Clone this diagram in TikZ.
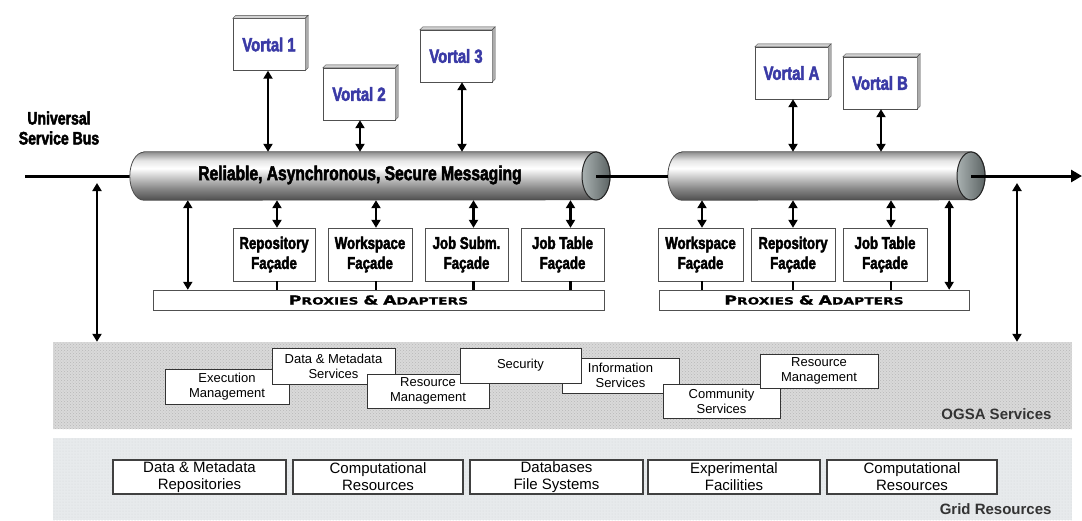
\documentclass[tikz,border=0pt]{standalone}
\usepackage{fontspec}
\setmainfont{Liberation Sans}
\newfontfamily\impactfont[FakeStretch=0.78,FakeBold=2.5]{Liberation Sans Bold}
\newfontfamily\copperfont[FakeStretch=1.38,FakeBold=1]{DejaVu Sans Bold}
\usepackage{tikz}
\usetikzlibrary{positioning, arrows.meta, calc, patterns}
\definecolor{vortalblue}{HTML}{3A3AA6}
\definecolor{edgegray}{HTML}{505050}
\definecolor{ogsafill}{HTML}{D9D9D9}
\definecolor{ogsadots}{HTML}{B8B8B8}
\definecolor{gridfill}{HTML}{E7EAEC}
\definecolor{griddots}{HTML}{D2D7DA}
\definecolor{pipedark}{HTML}{4E4E4E}
\definecolor{pipemid}{HTML}{8C8C8C}
\definecolor{holedark}{HTML}{5C6464}
\definecolor{holelight}{HTML}{A9B1B1}
\pgfdeclareverticalshading{pipegrad}{100bp}{color(0bp)=(pipedark); color(25bp)=(pipedark);
  color(38bp)=(pipemid); color(58bp)=(white); color(66bp)=(white!80!gray);
  color(75bp)=(pipemid); color(100bp)=(pipemid)}
\newcommand{\fakesc}[2]{{\fontsize{12.5}{12}\selectfont #1}{\fontsize{10}{10}\selectfont #2}}

\begin{document}
\begin{tikzpicture}[x=1pt, y=-1pt,
    vortal/.style={draw=edgegray, fill=white, minimum width=72pt, minimum height=52pt, inner sep=0pt,
                   font=\impactfont\fontsize{19}{21}\selectfont, text=vortalblue},
    facade/.style={draw=edgegray, fill=white, minimum width=83pt, minimum height=53pt, inner sep=0pt,
                   align=center, font=\impactfont\fontsize{17}{20}\selectfont},
    proxbar/.style={draw=edgegray, fill=white, minimum height=20pt, inner sep=0pt, font=\copperfont},
    ogsabox/.style={draw=black!80, fill=white, inner sep=0pt, align=center,
                    font=\fontsize{13}{15}\selectfont},
    gridbox/.style={draw=black!75, line width=1.2pt, fill=white, minimum height=34pt, inner sep=0pt,
                    align=center, font=\fontsize{15}{17}\selectfont},
    band/.style={inner sep=0pt, minimum width=1019pt},
    bandname/.style={font=\bfseries\fontsize{15}{17}\selectfont, text=black!80, anchor=east},
    pipebody/.style={minimum height=48pt, inner sep=0pt},
    arr/.style={{Triangle[length=8pt, width=9pt]}-{Triangle[length=8pt, width=9pt]}, line width=2.6pt},
    stub/.style={line width=2.6pt},
    busline/.style={line width=3pt},
]
\useasboundingbox (0,0) rectangle (1082,520);

% layers
\node[band, minimum height=87pt, fill=ogsafill,
      postaction={pattern=crosshatch dots, pattern color=ogsadots}] (ogsa) at (562.5,385.5) {};
\node[band, minimum height=82pt, fill=gridfill,
      postaction={pattern=dots, pattern color=griddots}] (grid) at (562.5,479) {};
\node[bandname] (ogsaname) at (1055,414) {OGSA Services};
\node[bandname] (gridname) at (1055,509) {Grid Resources};

% service bus
\node[font=\impactfont\fontsize{18}{20}\selectfont, align=center] (usb) at (59,128) {Universal\\Service Bus};
\node[pipebody, minimum width=480pt] (pipeA) at (370,176) {};
\node[pipebody, minimum width=317pt] (pipeB) at (826.5,176) {};
\coordinate (busL) at (25,176);
\coordinate (busR) at (1082,176);
\coordinate (endA) at (596,176);
\coordinate (endB) at (971,176);
\draw[busline] (busL) -- (pipeA.west);
\foreach \p in {pipeA,pipeB} {
  \shadedraw[shading=pipegrad, draw=pipedark, line width=0.8pt]
    ($(\p.north west)+(14,0)$) -- ($(\p.north east)+(-14,0)$)
    arc[start angle=-90, end angle=90, x radius=14, y radius=24]
    -- ($(\p.south west)+(14,0)$)
    arc[start angle=90, end angle=270, x radius=14, y radius=24] -- cycle;
}
\shadedraw[left color=holelight, right color=holedark, draw=black!85, line width=1pt]
  (endA) ellipse [x radius=14, y radius=24];
\shadedraw[left color=holelight, right color=holedark, draw=black!85, line width=1pt]
  (endB) ellipse [x radius=14, y radius=24];
\draw[busline] (endA) -- (pipeB.west);
\draw[busline, -{Triangle[length=11pt, width=12pt]}] (endB) -- (busR);
\node[font=\impactfont\fontsize{20}{22}\selectfont] (msg) at (360,175)
  {Reliable, Asynchronous, Secure Messaging};

% vortals
\node[vortal] (v1) at (269,44.5) {Vortal 1};
\node[vortal] (v2) at (359,94) {Vortal 2};
\node[vortal] (v3) at (456,56) {Vortal 3};
\node[vortal, minimum width=73pt] (vA) at (791.5,73) {Vortal A};
\node[vortal, minimum width=74pt] (vB) at (880,83) {Vortal B};
\foreach \v/\dx in {v1/-1, v2/1, v3/6, vA/1.5, vB/1} {
  \filldraw[fill=gray!35, draw=edgegray] (\v.north west) -- ++(3,-3)
    -- ($(\v.north east)+(3,-3)$) -- (\v.north east) -- cycle;
  \filldraw[fill=gray!65, draw=edgegray] (\v.north east) -- ++(3,-3)
    -- ($(\v.south east)+(3,-3)$) -- (\v.south east) -- cycle;
}
\foreach \v/\dx/\p in {v1/-1/pipeA, v2/1/pipeA, v3/6/pipeA, vA/1.5/pipeB, vB/1/pipeB}
  \draw[arr] ([xshift=\dx pt]\v.south) -- ([xshift=\dx pt]\v.south |- \p.north);

% facades
\node[facade, minimum width=82pt] (fRepA) at (274,254.5) {Repository\\Façade};
\node[facade, minimum width=84pt] (fWorkA) at (370,254.5) {Workspace\\Façade};
\node[facade] (fSubmA) at (466.5,254.5) {Job Subm.\\Façade};
\node[facade] (fTableA) at (562.5,254.5) {Job Table\\Façade};
\node[facade, minimum width=85pt] (fWorkB) at (700.5,254.5) {Workspace\\Façade};
\node[facade, minimum width=84pt] (fRepB) at (793,254.5) {Repository\\Façade};
\node[facade, minimum width=84pt] (fTableB) at (885,254.5) {Job Table\\Façade};
\node[proxbar, minimum width=451pt] (proxA) at (378.5,300)
  {\fakesc{P}{ROXIES} \fakesc{\&}{} \fakesc{A}{DAPTERS}};
\node[proxbar, minimum width=310pt] (proxB) at (814,300)
  {\fakesc{P}{ROXIES} \fakesc{\&}{} \fakesc{A}{DAPTERS}};
\foreach \f/\dx/\p/\x in {fRepA/3/pipeA/proxA, fWorkA/6/pipeA/proxA, fSubmA/7/pipeA/proxA,
                          fTableA/8/pipeA/proxA, fWorkB/1.5/pipeB/proxB, fRepB/0/pipeB/proxB,
                          fTableB/6/pipeB/proxB} {
  \draw[arr] ([xshift=\dx pt]\f.north |- \p.south) -- ([xshift=\dx pt]\f.north);
  \draw[stub] ([xshift=\dx pt]\f.south) -- ([xshift=\dx pt]\f.south |- \x.north);
}
\draw[arr] ([xshift=35pt]proxA.north west |- pipeA.south) -- ([xshift=35pt]proxA.north west);
\draw[arr] ([xshift=-20pt]proxB.north east |- pipeB.south) -- ([xshift=-20pt]proxB.north east);

% bus taps
\coordinate (tapL) at (97,183);
\coordinate (tapR) at (1017,183);
\draw[arr] (tapL) -- (tapL |- ogsa.north);
\draw[arr] (tapR) -- (tapR |- ogsa.north);

% OGSA services
\node[ogsabox, minimum width=124pt, minimum height=35pt] (exec) at (227,386.5) {Execution\\Management};
\node[ogsabox, minimum width=123pt, minimum height=36pt] (datamd) at (333.5,366) {Data \& Metadata\\Services};
\node[ogsabox, minimum width=122pt, minimum height=34pt] (resmgA) at (428,391) {Resource\\Management};
\node[ogsabox, minimum width=117pt, minimum height=35pt] (infosv) at (620.5,375.5) {Information\\Services};
\node[ogsabox, minimum width=121pt, minimum height=35pt] (secur) at (520.5,365.5) {Security};
\node[ogsabox, minimum width=117pt, minimum height=34pt] (commsv) at (721.5,401) {Community\\Services};
\node[ogsabox, minimum width=118pt, minimum height=34pt] (resmgB) at (819,371) {Resource\\Management};

% grid resources
\node[gridbox, minimum width=173pt] (gData) at (199.5,477) {Data \& Metadata\\Repositories};
\node[gridbox, minimum width=170pt] (gComp) at (378,477) {Computational\\Resources};
\node[gridbox, minimum width=173pt] (gDb) at (556.5,477) {Databases\\File Systems};
\node[gridbox, minimum width=172pt] (gExp) at (734,477) {Experimental\\Facilities};
\node[gridbox, minimum width=170pt] (gComp2) at (912,477) {Computational\\Resources};
\end{tikzpicture}
\end{document}
